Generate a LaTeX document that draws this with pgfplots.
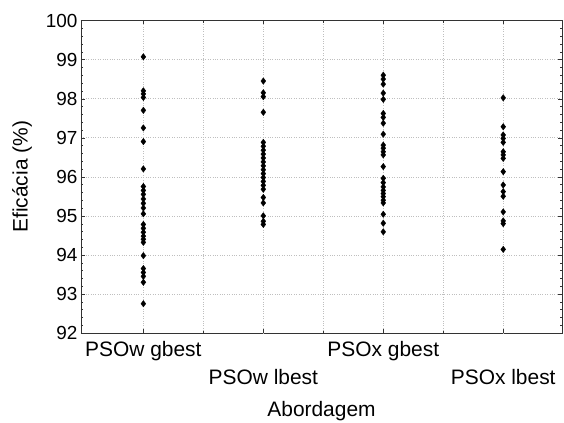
\documentclass[border=0pt]{standalone}
\usepackage{pgfplots}
\pgfplotsset{compat=1.18}
\usepackage{fontspec}
\setmainfont{Liberation Sans}
\usetikzlibrary{calc}

\begin{document}
\begin{tikzpicture}
\begin{axis}[
    scale only axis,
    width=481bp, height=312.5bp,
    xmin=-0.52, xmax=3.49,
    ymin=92, ymax=100,
    ytick={92,93,...,100},
    minor y tick num=4,
    xtick={0,2},
    xticklabels={PSOw gbest,PSOx gbest},
    extra x ticks={1,3},
    extra x tick labels={PSOw lbest,PSOx lbest},
    extra x tick style={tick label style={yshift=-28bp}},
    minor xtick={0.5,1.5,2.5},
    xmajorgrids=true, xminorgrids=true, ymajorgrids=true,
    major grid style={gray!50, dotted},
    minor grid style={gray!50, dotted},
    tick align=inside,
    major tick length=4bp, minor tick length=2.5bp,
    tick style={black!80},
    axis line style={black!80, line width=0.9pt},
    yticklabel style={font=\fontsize{19}{22}\selectfont},
    xticklabel style={font=\fontsize{21}{24}\selectfont, yshift=-5bp},
    /pgf/number format/assume math mode=true,
    xlabel={Abordagem},
    ylabel={Eficácia (\%)},
    label style={font=\fontsize{21}{24}\selectfont},
    xlabel style={at={(axis description cs:0.5,0)}, anchor=center, yshift=-78bp},
    ylabel style={at={(axis description cs:-0.1227,0.5)}, anchor=center},
    clip=false,
]
\addplot[only marks, mark=diamond*, mark size=3.2bp, black] coordinates {
(0,99.07) (0,98.2) (0,98.12) (0,98.03) (0,97.7) (0,97.25) (0,96.9) (0,96.2)
(0,95.75) (0,95.65) (0,95.55) (0,95.43) (0,95.32) (0,95.2) (0,95.05)
(0,94.78) (0,94.68) (0,94.58) (0,94.48) (0,94.4) (0,94.32)
(0,93.98) (0,93.65) (0,93.55) (0,93.45) (0,93.3) (0,92.75)
};
\addplot[only marks, mark=diamond*, mark size=3.2bp, black] coordinates {
(1,98.45) (1,98.15) (1,98.05) (1,97.65) (1,96.88) (1,96.78) (1,96.68) (1,96.58)
(1,96.48) (1,96.38) (1,96.28) (1,96.18) (1,96.08) (1,95.98) (1,95.88) (1,95.78)
(1,95.68) (1,95.47) (1,95.33) (1,95.0) (1,94.86) (1,94.78)
};
\addplot[only marks, mark=diamond*, mark size=3.2bp, black] coordinates {
(2,98.6) (2,98.5) (2,98.37) (2,98.14) (2,97.98) (2,97.62) (2,97.52) (2,97.37)
(2,97.09) (2,96.81) (2,96.73) (2,96.64) (2,96.56) (2,96.26) (2,95.96) (2,95.85)
(2,95.74) (2,95.65) (2,95.57) (2,95.49) (2,95.4) (2,95.33) (2,95.04) (2,94.81)
(2,94.59)
};
\addplot[only marks, mark=diamond*, mark size=3.2bp, black] coordinates {
(3,98.02) (3,97.28) (3,97.07) (3,96.98) (3,96.88) (3,96.64) (3,96.56) (3,96.47)
(3,96.13) (3,95.79) (3,95.62) (3,95.5) (3,95.1) (3,94.87) (3,94.8) (3,94.14)
};
\end{axis}
\pgfresetboundingbox
\path ($(current axis.south west)+(-81bp,-90bp)$) rectangle ($(current axis.north east)+(2bp,20.5bp)$);
\end{tikzpicture}
\end{document}
